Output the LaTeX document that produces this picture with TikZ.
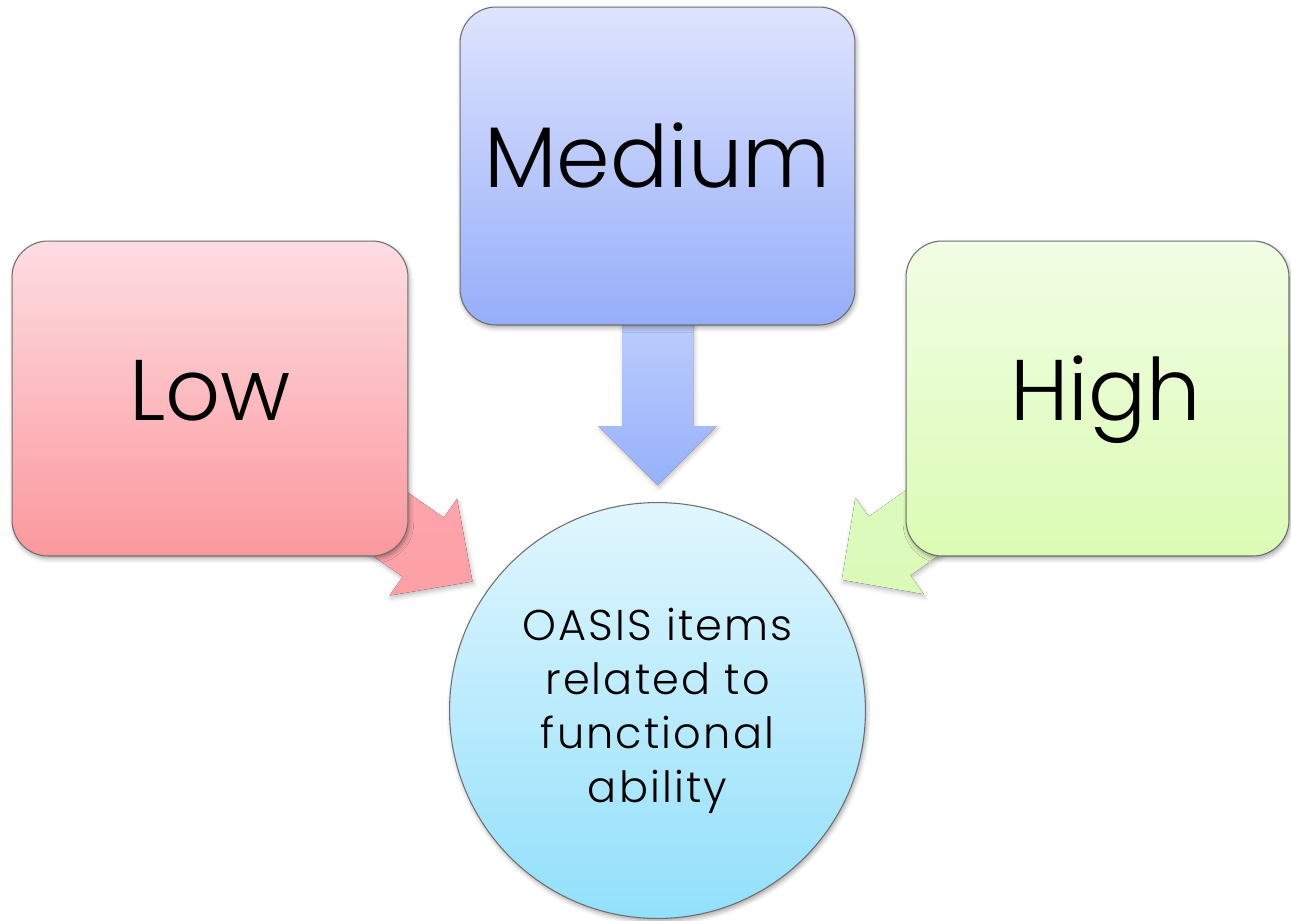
\documentclass[tikz,border=0pt]{standalone}
\usepackage{fontspec}
\setmainfont{Poppins}[UprightFont=* Light]
\newfontfamily\bubblefont{Poppins}[UprightFont=* Light, LetterSpace=5]
\usetikzlibrary{calc,shadows.blur}

\definecolor{edge}{RGB}{110,110,110}
\definecolor{lowtop}{RGB}{253,221,226}
\definecolor{lowbot}{RGB}{251,152,157}
\definecolor{medtop}{RGB}{222,228,253}
\definecolor{medbot}{RGB}{150,174,250}
\definecolor{hightop}{RGB}{241,253,228}
\definecolor{highbot}{RGB}{219,252,180}
\definecolor{ciltop}{RGB}{225,246,253}
\definecolor{cilbot}{RGB}{146,224,252}
\definecolor{lowarrow}{RGB}{252,170,175}
\definecolor{lowarrowb}{RGB}{253,160,166}
\definecolor{medarrowt}{RGB}{192,207,252}
\definecolor{medarrowb}{RGB}{150,177,250}
\definecolor{higharrow}{RGB}{226,251,196}
\definecolor{higharrowb}{RGB}{218,250,185}

\begin{document}
\begin{tikzpicture}[x=0.02cm,y=-0.02cm,
  softshadow/.style={blur shadow={shadow xshift=0.8pt, shadow yshift=-1.6pt,
      shadow blur radius=2.5pt, shadow opacity=35}},
  levelbox/.style={rectangle, rounded corners=0.72cm, draw=edge, line width=0.6pt,
      inner sep=0pt, font=\fontsize{49}{55}\selectfont,
      text height=35pt, text depth=10pt, softshadow},
  itembubble/.style={circle, draw=edge, line width=0.6pt, inner sep=0pt,
      minimum size=8.32cm, align=center,
      font=\bubblefont\fontsize{24.5}{30.7}\selectfont, top color=ciltop, bottom color=cilbot,
      softshadow},
  blockarrow/.style={draw=none, blur shadow={shadow xshift=0.8pt, shadow yshift=-1.6pt,
      shadow blur radius=2.5pt, shadow opacity=25}}]

\useasboundingbox (0,0) rectangle (1291,920);

% anchors for the four shapes (drawn later, on top of the arrows)
\coordinate (lowc) at (210,398.5);
\coordinate (medc) at (657.5,166);
\coordinate (highc) at (1097.5,398.5);
\coordinate (oasisc) at (657.5,710.5);

% arrow from "Low" towards the circle
\coordinate (lb) at ($(lowc)!5.2cm!(oasisc)$);
\coordinate (lt) at ($(lowc)!6.4cm!(oasisc)$);
\fill[blockarrow, top color=lowarrow, bottom color=lowarrowb]
  ($(lowc)!0.72cm!90:(oasisc)$) -- ($(lb)!0.72cm!90:(oasisc)$) --
  ($(lb)!1.18cm!90:(oasisc)$) -- (lt) --
  ($(lb)!1.18cm!-90:(oasisc)$) -- ($(lb)!0.72cm!-90:(oasisc)$) --
  ($(lowc)!0.72cm!-90:(oasisc)$) -- cycle;

% arrow from "High" towards the circle
\coordinate (hb) at ($(highc)!5.1cm!(oasisc)$);
\coordinate (ht) at ($(highc)!6.27cm!(oasisc)$);
\fill[blockarrow, top color=higharrow, bottom color=higharrowb]
  ($(highc)!0.72cm!90:(oasisc)$) -- ($(hb)!0.72cm!90:(oasisc)$) --
  ($(hb)!1.18cm!90:(oasisc)$) -- (ht) --
  ($(hb)!1.18cm!-90:(oasisc)$) -- ($(hb)!0.72cm!-90:(oasisc)$) --
  ($(highc)!0.72cm!-90:(oasisc)$) -- cycle;

% arrow from "Medium" straight down
\fill[blockarrow, top color=medarrowt, bottom color=medarrowb]
  ($(medc)+(-35.5,140)$) -- ($(medc)+(-35.5,260)$) -- ($(medc)+(-59,260)$) --
  ($(medc)+(0,319)$) -- ($(medc)+(59,260)$) -- ($(medc)+(35.5,260)$) --
  ($(medc)+(35.5,140)$) -- cycle;

% the three level boxes
\node[levelbox, minimum width=7.92cm, minimum height=6.3cm,
      top color=lowtop, bottom color=lowbot] (low) at (lowc) {Low};
\node[levelbox, minimum width=7.9cm, minimum height=6.36cm,
      top color=medtop, bottom color=medbot] (medium) at (medc) {Medium};
\node[levelbox, minimum width=7.66cm, minimum height=6.3cm,
      top color=hightop, bottom color=highbot] (high) at (highc) {\hspace*{0.32cm}High};

% the central circle
\node[itembubble] (oasis) at (oasisc)
  {OASIS items\\related to\\functional\\ability};

\end{tikzpicture}
\end{document}
